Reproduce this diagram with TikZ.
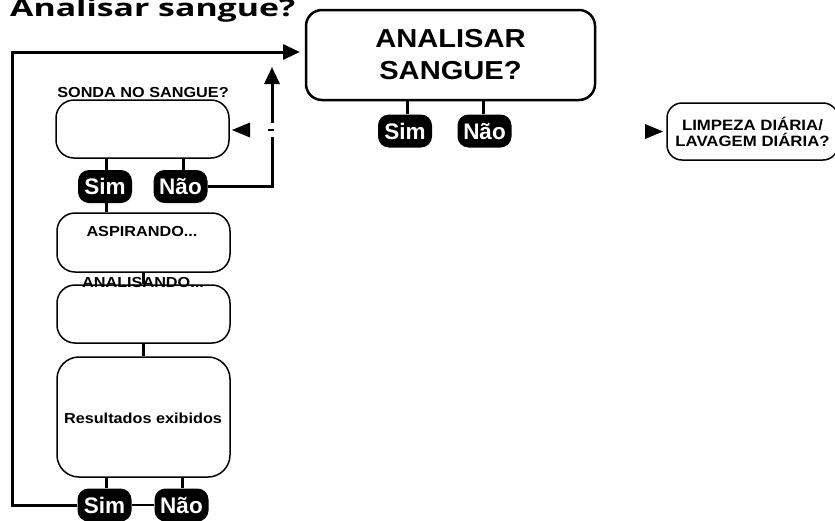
\documentclass[tikz,border=0pt]{standalone}
\usepackage{fontspec}
\setmainfont{Liberation Sans}
\newfontfamily\hbs[FakeStretch=1.12]{Liberation Sans}
\newfontfamily\ttlfont[FakeStretch=1.41]{Open Sans}
\usetikzlibrary{arrows.meta}
\begin{document}
\begin{tikzpicture}[x=1pt,y=-1pt,
  box/.style={draw, line width=1.5pt, rounded corners=16pt, fill=white, inner sep=0pt, align=center},
  bigbox/.style={box, line width=2.5pt},
  pill/.style={fill=black, rounded corners=11pt, text=white, inner sep=0pt,
    minimum width=54pt, minimum height=33pt, font=\bfseries\fontsize{22.5}{24}\selectfont},
  conn/.style={line width=3pt},
  thinconn/.style={line width=1.6pt},
  small/.style={font=\hbs\bfseries\fontsize{14.5}{16}\selectfont},
  tri/.style={-{Triangle[length=17pt,width=15pt]}}]
\useasboundingbox (0,0) rectangle (835,520);

% title
\node[anchor=base west, inner sep=0pt, font=\ttlfont\bfseries\fontsize{24}{26}\selectfont] (title) at (10,16) {Analisar sangue?};

% main box
\node[bigbox, minimum width=289pt, minimum height=90pt, font=\hbs\bfseries\fontsize{26}{32}\selectfont] (main) at (450.5,55) {ANALISAR\\SANGUE?};
\node[pill] (p1sim) at (405,131) {Sim};
\node[pill] (p1nao) at (484.5,131) {Não};
\draw[conn] (p1sim.north -| 407,0) -- (407,0 |- main.south);
\draw[conn] (p1nao.north -| 483,0) -- (483,0 |- main.south);

% limpeza box
\node[box, rounded corners=15pt, minimum width=171pt, minimum height=57pt, font=\hbs\bfseries\fontsize{15}{16}\selectfont] (limp) at (752.5,131.5) {LIMPEZA DIÁRIA/\\LAVAGEM DIÁRIA?};
\fill (663,131.5) -- (645,124) -- (645,139) -- cycle;

% sonda box
\node[box, rounded corners=18pt, minimum width=173pt, minimum height=58pt] (sonda) at (142.5,129) {};
\node[small, anchor=base, inner sep=0pt] (sondalbl) at (143,97) {SONDA NO SANGUE?};
\node[pill] (p2sim) at (105,186.5) {Sim};
\node[pill] (p2nao) at (180.5,186.5) {Não};
\draw[conn] (p2sim.north -| 106,0) -- (106,0 |- sonda.south);
\draw[conn] (p2nao.north -| 183,0) -- (183,0 |- sonda.south);

% aspirando
\node[box, rounded corners=18pt, minimum width=173pt, minimum height=59pt] (asp) at (143.5,242.5) {};
\node[small, inner sep=0pt] (asplbl) at (142,232) {ASPIRANDO...};
\draw[conn] (p2sim.south -| 106,0) -- (106,0 |- asp.north);

% analisando
\node[box, rounded corners=18pt, minimum width=173pt, minimum height=58pt] (ana) at (143.5,314) {};
\draw[conn] (143,0 |- asp.south) -- (143,0 |- ana.north);
\node[small, inner sep=0pt] (analbl) at (143,283) {ANALISANDO...};

% resultados
\node[box, rounded corners=22pt, minimum width=173pt, minimum height=120pt] (res) at (143.5,417) {};
\node[small, inner sep=0pt] (reslbl) at (143,418) {Resultados exibidos};
\draw[conn] (143,0 |- ana.south) -- (143,0 |- res.north);
\node[pill] (p3sim) at (104.5,505) {Sim};
\node[pill] (p3nao) at (181.5,505) {Não};
\draw[conn] (p3sim.north -| 106,0) -- (106,0 |- res.south);
\draw[conn] (p3nao.north -| 182,0) -- (182,0 |- res.south);
\draw[thinconn] (p3sim.east) -- (p3nao.west);

% loop back to main
\coordinate (loopend) at (300,52);
\draw[conn, tri] (p3sim.west) -| (12,52) -- (loopend);

% Nao from sonda up
\coordinate (upend) at (272,67);
\draw[conn, tri] (p2nao.east) -| (upend);
\fill[white] (269,123) rectangle (276,137);
\draw[line width=2pt] (268,130) -- (274,130);
\fill (232,130) -- (250,122.5) -- (250,137.5) -- cycle;
\end{tikzpicture}
\end{document}
